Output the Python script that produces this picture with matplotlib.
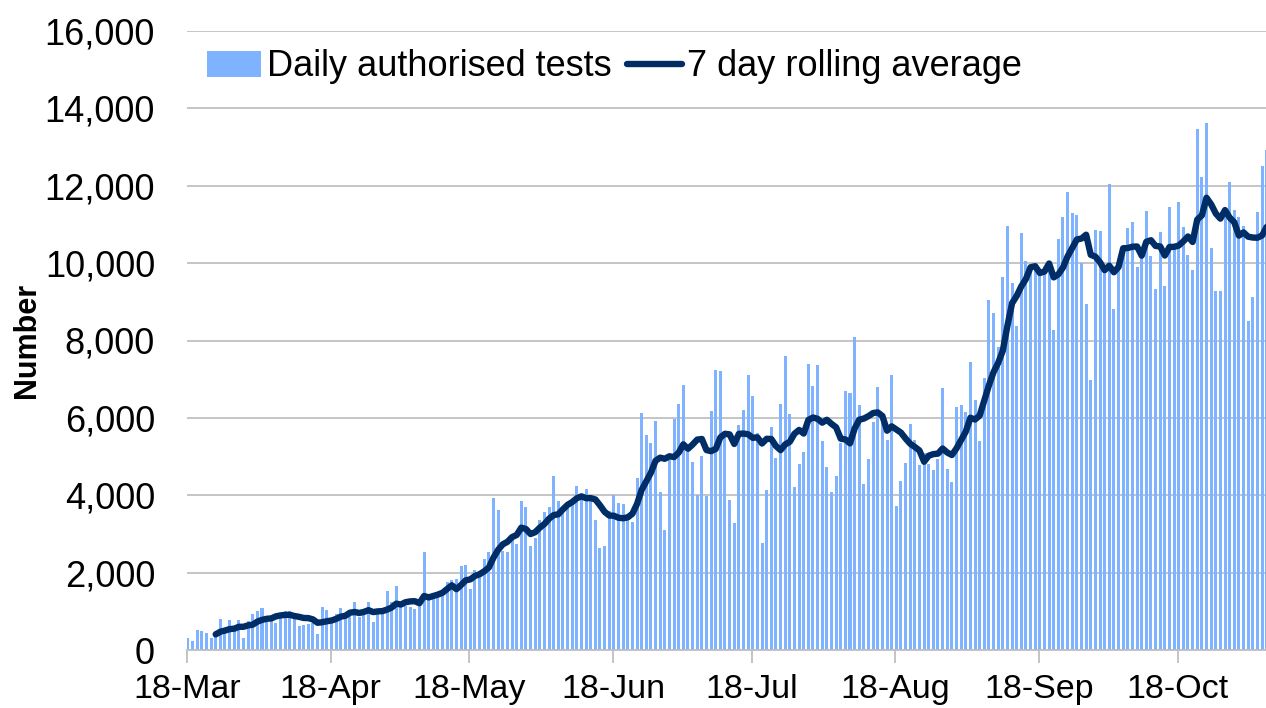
import pandas as pd
import numpy as np
import matplotlib
matplotlib.use('Agg')
import matplotlib.pyplot as plt
import matplotlib.dates as mdates

plt.rcParams['font.family'] = ['Liberation Sans', 'DejaVu Sans']

# Daily authorised tests, one value per day starting 18-Mar-2020
start_date = '2020-03-18'
daily_tests = [
    320, 235, 520, 495, 435, 320, 500, 800, 450, 775,
    580, 775, 320, 755, 930, 1000, 1090, 775, 845, 690,
    930, 1020, 1020, 870, 625, 640, 670, 690, 410, 1120,
    1045, 757, 930, 1080, 845, 975, 1250, 860, 950, 1250,
    730, 975, 1020, 1520, 1235, 1650, 1100, 1150, 1120, 1060,
    1150, 2540, 1400, 1360, 1400, 1450, 1750, 1810, 1835, 2160,
    2200, 1580, 2070, 2050, 2350, 2525, 3940, 3610, 2570, 2525,
    2900, 2740, 3850, 3700, 2700, 2900, 3350, 3560, 3700, 4500,
    3850, 3600, 3700, 3860, 4250, 4040, 4170, 3860, 3360, 2640,
    2680, 3580, 4000, 3810, 3770, 3520, 3300, 4450, 6120, 5560,
    5360, 5930, 4080, 3100, 4900, 5980, 6370, 6850, 5120, 4850,
    4000, 5010, 3975, 6170, 7250, 7215, 5500, 3890, 3280, 5810,
    6215, 7120, 6570, 5600, 2770, 4130, 5770, 4950, 6370, 7600,
    6090, 4215, 4820, 5120, 7400, 6820, 7360, 5400, 4730, 4090,
    4490, 5340, 6690, 6650, 8080, 6330, 4300, 4930, 5900, 6800,
    6000, 5420, 7120, 3720, 4370, 4840, 5850, 5420, 4780, 5080,
    4820, 4650, 4930, 6780, 4690, 4330, 6280, 6330, 6160, 7450,
    6460, 5400, 7040, 9040, 8720, 7840, 9650, 10960, 9490, 8370,
    10770, 10060, 9960, 9830, 9740, 9740, 9830, 8260, 10620, 11180,
    11850, 11290, 11250, 10000, 8950, 6980, 10860, 10820, 9870, 12050,
    8820, 9910, 10360, 10900, 11060, 9910, 10390, 11340, 10180, 9330,
    10810, 9410, 11460, 10420, 11570, 10940, 10210, 9820, 13460, 12220,
    13610, 10380, 9280, 9280, 11370, 12100, 11370, 11200, 10960, 8500,
    9130, 11330, 12520, 12920,
]
tick_months = [3, 4, 5, 6, 7, 8, 9, 10]
yticks = [0, 2000, 4000, 6000, 8000, 10000, 12000, 14000, 16000]

dates = pd.date_range(start_date, periods=len(daily_tests), freq='D')
x = mdates.date2num(dates) + 0.2
rolling_avg = pd.Series(daily_tests).rolling(7).mean()

fig = plt.figure(figsize=(12.66, 7.08), dpi=100)
ax = fig.add_axes([187 / 1266, 58 / 708, 1 - 187 / 1266, 619 / 708])

bars = ax.bar(x, daily_tests, width=0.65, color='#80B3FF', label='Daily authorised tests', zorder=2)
line, = ax.plot(x, rolling_avg, color='#002D66', linewidth=4.6, label='7 day rolling average',
                zorder=3, solid_capstyle='round', solid_joinstyle='round')

x0 = mdates.date2num(pd.Timestamp(start_date))
ax.set_xlim(x0, x0 + 233.05)
ax.set_ylim(0, 16000)

ax.set_xticks([mdates.date2num(pd.Timestamp(2020, m, 18)) for m in tick_months])
ax.xaxis.set_major_formatter(mdates.DateFormatter('%d-%b'))
ax.set_yticks(yticks)
ax.set_yticklabels([f'{v:,}' for v in yticks])

ax.tick_params(axis='x', labelsize=24.5, length=9, width=1.3, color='#BFBFBF', pad=8)
ax.tick_params(axis='y', labelsize=26, length=0, pad=23)

ax.grid(axis='y', color='#C0C0C0', linewidth=1.3, zorder=0)
ax.set_axisbelow(True)
for side in ['top', 'right', 'left']:
    ax.spines[side].set_visible(False)
ax.spines['bottom'].set_color('#BFBFBF')
ax.spines['bottom'].set_linewidth(1.3)

ax.set_ylabel('Number', fontsize=22, fontweight='bold')
ax.yaxis.set_label_coords((42 - 187) / 1079, 0.5)

ax.legend([bars, line], ['Daily authorised tests', '7 day rolling average'],
          loc='center left', bbox_to_anchor=(207 / 1266, 1 - 67 / 708),
          bbox_transform=fig.transFigure, ncol=2, frameon=False, fontsize=26,
          handlelength=1.5, handletextpad=0.15, columnspacing=0.45,
          borderpad=0, borderaxespad=0)

plt.savefig('out.png', dpi=100)
plt.close()
